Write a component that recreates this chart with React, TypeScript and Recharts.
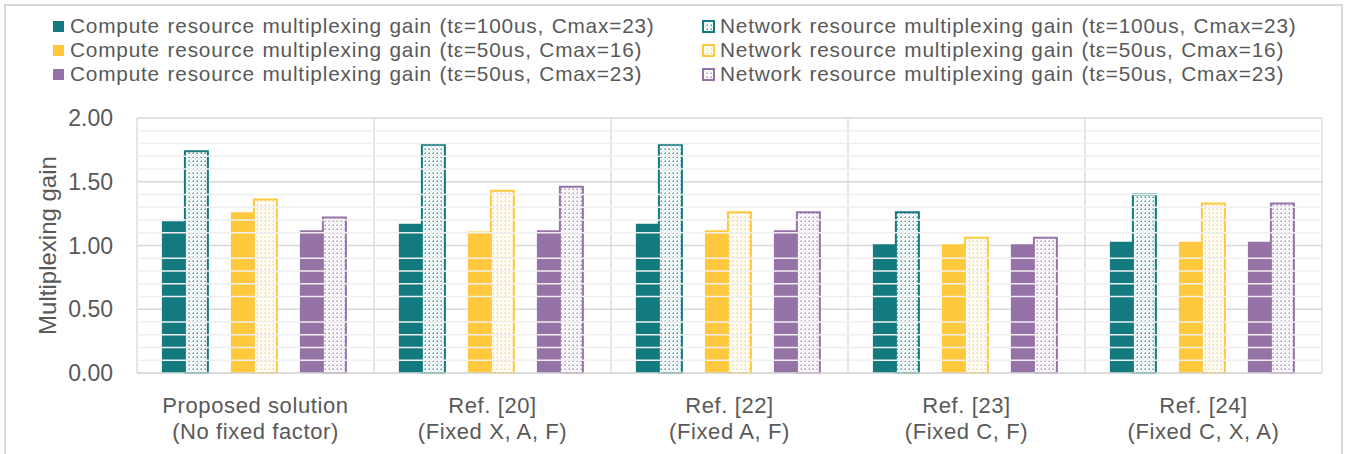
import React from 'react';
import { BarChart, Bar, XAxis, YAxis, CartesianGrid, ReferenceLine } from 'recharts';

const CATEGORY_LINE1 = ['Proposed solution', 'Ref. [20]', 'Ref. [22]', 'Ref. [23]', 'Ref. [24]'];
const CATEGORY_LINE2 = ['(No fixed factor)', '(Fixed X, A, F)', '(Fixed A, F)', '(Fixed C, F)', '(Fixed C, X, A)'];

const COMPUTE_100_23 = [1.19, 1.17, 1.17, 1.01, 1.03];
const NETWORK_100_23 = [1.74, 1.79, 1.79, 1.26, 1.40];
const COMPUTE_50_16 = [1.26, 1.11, 1.12, 1.01, 1.03];
const NETWORK_50_16 = [1.36, 1.43, 1.26, 1.06, 1.33];
const COMPUTE_50_23 = [1.12, 1.12, 1.12, 1.01, 1.03];
const NETWORK_50_23 = [1.22, 1.46, 1.26, 1.06, 1.33];

const Y_TICKS = [0, 0.5, 1, 1.5, 2];
const MINOR_TICKS = [0.1, 0.2, 0.3, 0.4, 0.6, 0.7, 0.8, 0.9, 1.1, 1.2, 1.3, 1.4, 1.6, 1.7, 1.8, 1.9];

const TEAL = '#137b80';
const YELLOW = '#ffc83d';
const PURPLE = '#9673a6';
const TEXT = '#595959';
const FONT = '"Liberation Sans", Arial, sans-serif';

const data = CATEGORY_LINE1.map((name, i) => ({
  name,
  c100: COMPUTE_100_23[i],
  n100: NETWORK_100_23[i],
  c50_16: COMPUTE_50_16[i],
  n50_16: NETWORK_50_16[i],
  c50_23: COMPUTE_50_23[i],
  n50_23: NETWORK_50_23[i],
  gap: 0,
}));

const LEGEND_LEFT = [
  { label: 'Compute resource multiplexing gain (tε=100us, Cmax=23)', color: TEAL },
  { label: 'Compute resource multiplexing gain (tε=50us, Cmax=16)', color: YELLOW },
  { label: 'Compute resource multiplexing gain (tε=50us, Cmax=23)', color: PURPLE },
];
const LEGEND_RIGHT = [
  { label: 'Network resource multiplexing gain (tε=100us, Cmax=23)', color: TEAL, pat: 'dots-teal' },
  { label: 'Network resource multiplexing gain (tε=50us, Cmax=16)', color: YELLOW, pat: 'dots-yellow' },
  { label: 'Network resource multiplexing gain (tε=50us, Cmax=23)', color: PURPLE, pat: 'dots-purple' },
];

const Dots = ({ id, color }: { id: string; color: string }) => (
  <pattern id={id} width="4" height="4" patternUnits="userSpaceOnUse">
    <rect width="4" height="4" fill="#fff" />
    <rect x="0.5" y="0.5" width="1.5" height="1.5" fill={color} opacity="0.8" />
    <rect x="2.5" y="2.5" width="1" height="1" fill={color} opacity="0.45" />
  </pattern>
);

const CategoryTick = (props: any) => {
  const { x, y, payload } = props;
  const i = payload.index;
  return (
    <text x={x} y={y} textAnchor="middle" fill={TEXT} fontSize={22} letterSpacing={0.6} fontFamily={FONT}>
      <tspan x={x} dy={38}>{CATEGORY_LINE1[i]}</tspan>
      <tspan x={x} dy={26}>{CATEGORY_LINE2[i]}</tspan>
    </text>
  );
};

const YLabel = (props: any) => {
  const vb = props.viewBox;
  const cx = vb.x + 10;
  const cy = vb.y + vb.height / 2;
  return (
    <text x={cx} y={cy} transform={`rotate(-90 ${cx} ${cy})`} textAnchor="middle" dominantBaseline="central"
      fill={TEXT} fontSize={24} fontFamily={FONT}>
      Multiplexing gain
    </text>
  );
};

const LegendRow = ({ item, top, left }: any) => (
  <div style={{ position: 'absolute', left, top, display: 'flex', alignItems: 'center', height: 22 }}>
    <svg width={13} height={13} style={{ marginRight: 5 }}>
      {item.pat ? (
        <rect x={1} y={1} width={11} height={11} fill={`url(#${item.pat})`} stroke={item.color} strokeWidth={2} />
      ) : (
        <rect x={1} y={1} width={11} height={11} fill={item.color} />
      )}
    </svg>
    <span style={{ fontSize: 20.8, lineHeight: '22px', color: TEXT, letterSpacing: 0.8, wordSpacing: 1, whiteSpace: 'nowrap' }}>
      {item.label}
    </span>
  </div>
);

const App: React.FC = () => {
  return (
    <div style={{ position: 'absolute', left: 0, top: 0, width: 1348, height: 454, fontFamily: FONT, overflow: 'hidden' }}>
      <svg width={0} height={0} style={{ position: 'absolute' }}>
        <defs>
          <Dots id="dots-teal" color={TEAL} />
          <Dots id="dots-yellow" color={YELLOW} />
          <Dots id="dots-purple" color={PURPLE} />
        </defs>
      </svg>
      <div style={{ position: 'absolute', left: 0, top: 0 }}>
        <BarChart
          width={1348}
          height={454}
          data={data}
          margin={{ top: 118, right: 26, left: 37, bottom: 0 }}
          barGap={0}
          barCategoryGap="10.5%"
        >
          <CartesianGrid
            stroke="#d9d9d9"
            strokeWidth={1.3}
            verticalCoordinatesGenerator={(p: any) => {
              const o = p.offset;
              return [0, 1, 2, 3, 4, 5].map(k => o.left + (k * o.width) / 5);
            }}
          />
          {MINOR_TICKS.map(v => (
            <ReferenceLine key={v} y={v} stroke="#efefef" strokeWidth={1.5} />
          ))}
          <XAxis
            dataKey="name"
            height={81}
            tickLine={false}
            tickSize={0}
            axisLine={{ stroke: '#d9d9d9', strokeWidth: 1.5 }}
            tick={<CategoryTick />}
            interval={0}
          />
          <YAxis
            width={100}
            domain={[0, 2]}
            ticks={Y_TICKS}
            tickFormatter={(v: number) => v.toFixed(2)}
            axisLine={false}
            tickLine={false}
            tickSize={0}
            tickMargin={24}
            tick={{ fill: TEXT, fontSize: 23, fontFamily: FONT }}
            label={<YLabel />}
          />
          <Bar dataKey="c100" fill={TEAL} isAnimationActive={false} />
          <Bar dataKey="n100" fill="url(#dots-teal)" stroke={TEAL} strokeWidth={2} isAnimationActive={false} />
          <Bar dataKey="gap" fill="none" isAnimationActive={false} legendType="none" />
          <Bar dataKey="c50_16" fill={YELLOW} isAnimationActive={false} />
          <Bar dataKey="n50_16" fill="url(#dots-yellow)" stroke={YELLOW} strokeWidth={2} isAnimationActive={false} />
          <Bar dataKey="gap" fill="none" isAnimationActive={false} legendType="none" />
          <Bar dataKey="c50_23" fill={PURPLE} isAnimationActive={false} />
          <Bar dataKey="n50_23" fill="url(#dots-purple)" stroke={PURPLE} strokeWidth={2} isAnimationActive={false} />
        </BarChart>
      </div>
      {LEGEND_LEFT.map((it, i) => (
        <LegendRow key={it.label} item={it} left={52} top={15 + i * 24} />
      ))}
      {LEGEND_RIGHT.map((it, i) => (
        <LegendRow key={it.label} item={it} left={702} top={15 + i * 24} />
      ))}
      <div style={{ position: 'absolute', left: 4, top: 4, width: 1339, height: 470, border: '2px solid #d9d9d9', boxSizing: 'border-box', pointerEvents: 'none' }} />
    </div>
  );
};

export default App;
